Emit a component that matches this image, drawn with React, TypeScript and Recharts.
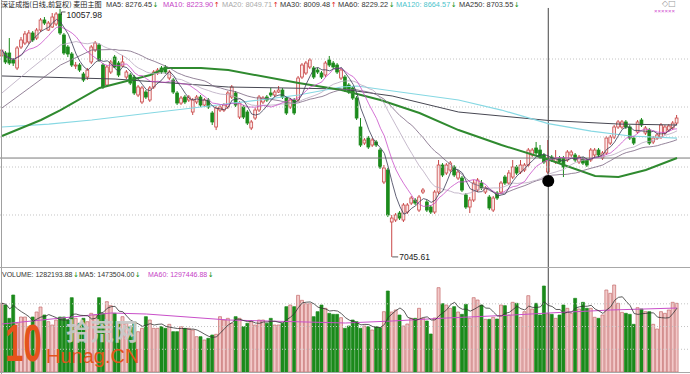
import React from 'react';
import { ComposedChart, Bar, Line, XAxis, YAxis, ReferenceLine, ReferenceDot, Cell } from 'recharts';

// daily candles (index 0 = left edge)
const opens = [
  9487, 9523, 9523, 9438, 9341, 9596, 9644, 9657, 9766, 9705, 9802, 9924, 9802, 9839, 9875, 9997, 9742, 9596, 9511, 9365,
  9377, 9268, 9231, 9414, 9559, 9620, 9377, 9134, 9292, 9474, 9401, 9365, 9231, 9256, 9231, 9013, 8928, 9049, 8952, 9110,
  9280, 9341, 9353, 9219, 9195, 9037, 8915, 8988, 8952, 8806, 8928, 8988, 8891, 8952, 8794, 8624, 8830, 8830, 8867, 8988,
  9037, 8745, 8867, 8806, 8612, 8733, 8830, 8928, 8988, 9037, 9013, 9049, 9073, 8976, 8867, 8952, 8952, 9231, 9280, 9353,
  9341, 9316, 9280, 9256, 9438, 9401, 9377, 9219, 9231, 9134, 9098, 8976, 8624, 8429, 8490, 8405, 8442, 8344, 7956, 8101,
  7470, 7494, 7579, 7494, 7591, 7700, 7737, 7615, 7834, 7713, 7652, 7591, 7834, 8162, 8065, 8101, 8138, 8004, 8004, 7798,
  7652, 7737, 7858, 7943, 7834, 7773, 7615, 7822, 7834, 8016, 7943, 8016, 8138, 8077, 8101, 8162, 8284, 8369, 8344, 8284,
  8077, 8259, 8199, 8247, 8247, 8223, 8284, 8284, 8199, 8235, 8223, 8223, 8284, 8344, 8247, 8308, 8429, 8502, 8624, 8624,
  8685, 8624, 8490, 8563, 8709, 8551, 8587, 8442, 8490, 8502, 8551, 8587, 8612, 8672,
];
const highs = [
  9596, 9547, 9705, 9462, 9608, 9717, 9790, 9802, 9790, 9827, 9948, 9960, 9912, 10009, 10021, 10057.98, 9766, 9620, 9535, 9414,
  9401, 9292, 9341, 9620, 9669, 9644, 9401, 9377, 9438, 9499, 9426, 9499, 9316, 9280, 9256, 9134, 9122, 9073, 9122, 9316,
  9341, 9365, 9377, 9316, 9219, 9061, 9001, 9013, 9013, 8976, 9013, 9013, 8976, 8976, 8818, 8879, 8891, 8915, 9061, 9134,
  9061, 8940, 8891, 8830, 8709, 8855, 9013, 9001, 9013, 9098, 9073, 9122, 9098, 9001, 8976, 8976, 9244, 9401, 9426, 9462,
  9365, 9341, 9304, 9426, 9487, 9426, 9401, 9341, 9256, 9158, 9122, 9001, 8733, 8490, 8515, 8490, 8466, 8369, 8162, 8126,
  7555, 7579, 7603, 7700, 7700, 7786, 7761, 7798, 7883, 7737, 7676, 7858, 8223, 8186, 8186, 8211, 8162, 8101, 8029, 7822,
  7773, 7980, 8004, 7980, 7907, 7798, 7786, 7846, 7968, 8041, 8101, 8223, 8162, 8223, 8186, 8369, 8369, 8442, 8405, 8308,
  8466, 8284, 8344, 8272, 8272, 8344, 8344, 8308, 8284, 8259, 8247, 8369, 8369, 8369, 8332, 8515, 8527, 8648, 8709, 8709,
  8709, 8648, 8515, 8709, 8733, 8636, 8612, 8515, 8551, 8672, 8648, 8660, 8697, 8770,
];
const lows = [
  9462, 9389, 9377, 9365, 9316, 9572, 9620, 9632, 9657, 9681, 9778, 9863, 9790, 9827, 9851, 9742, 9499, 9474, 9353, 9329,
  9292, 9171, 9195, 9389, 9535, 9414, 9086, 9110, 9268, 9341, 9231, 9353, 9207, 9134, 9013, 8988, 8903, 8964, 8928, 9086,
  9256, 9268, 9268, 9195, 9025, 8891, 8891, 8903, 8928, 8770, 8903, 8867, 8867, 8843, 8648, 8587, 8806, 8806, 8843, 8964,
  8867, 8721, 8721, 8648, 8587, 8709, 8806, 8903, 8928, 8988, 8988, 9037, 8964, 8770, 8843, 8770, 8928, 9207, 9256, 9329,
  9207, 9268, 9207, 9231, 9353, 9329, 9268, 9195, 9049, 9025, 8952, 8709, 8381, 8405, 8357, 8381, 8381, 8114, 7931, 7530,
  7045.61, 7470, 7494, 7470, 7567, 7676, 7676, 7591, 7810, 7591, 7567, 7567, 7810, 8016, 8041, 8077, 8016, 7980, 7834, 7628,
  7579, 7713, 7834, 7858, 7810, 7615, 7591, 7737, 7810, 7919, 7919, 7992, 8041, 8053, 8077, 8138, 8259, 8284, 8235, 8174,
  8053, 8199, 8174, 8174, 8016, 8199, 8259, 8199, 8174, 8162, 8138, 8199, 8259, 8259, 8223, 8284, 8405, 8478, 8600, 8600,
  8600, 8466, 8405, 8539, 8624, 8527, 8405, 8417, 8466, 8478, 8527, 8563, 8587, 8648,
];
const closes = [
  9559, 9414, 9401, 9401, 9584, 9681, 9754, 9766, 9681, 9802, 9924, 9887, 9887, 9960, 9997, 9766, 9523, 9511, 9377, 9377,
  9316, 9195, 9316, 9596, 9644, 9438, 9110, 9353, 9414, 9353, 9256, 9414, 9292, 9158, 9037, 9110, 9098, 8988, 9098, 9292,
  9316, 9292, 9292, 9292, 9049, 8915, 8976, 8928, 8988, 8952, 8988, 8891, 8952, 8867, 8685, 8855, 8867, 8891, 9037, 9110,
  8891, 8915, 8745, 8672, 8685, 8830, 8988, 8976, 8952, 9013, 9049, 9073, 8988, 8794, 8952, 8794, 9219, 9377, 9401, 9438,
  9231, 9292, 9231, 9401, 9377, 9353, 9292, 9316, 9073, 9049, 8976, 8733, 8405, 8466, 8381, 8466, 8405, 8138, 8126, 7555,
  7518, 7555, 7518, 7676, 7676, 7761, 7700, 7773, 7858, 7615, 7591, 7834, 8162, 8041, 8162, 8186, 8041, 8077, 7858, 7652,
  7737, 7943, 7980, 7883, 7883, 7640, 7761, 7761, 7943, 7943, 8065, 8138, 8065, 8162, 8162, 8344, 8344, 8308, 8259, 8199,
  8247, 8223, 8247, 8199, 8138, 8320, 8320, 8223, 8259, 8186, 8162, 8344, 8344, 8284, 8308, 8490, 8502, 8624, 8685, 8685,
  8624, 8490, 8429, 8685, 8648, 8612, 8429, 8490, 8527, 8648, 8624, 8636, 8672, 8733,
];
const volumes = [
  1511000, 1474000, 1181000, 1694000, 1071000, 1210000, 1210000, 880000, 1210000, 1320000, 1430000, 1254000, 1107000, 1034000, 1144000, 1210000, 1210000, 1144000, 1635000, 1181000,
  1071000, 1181000, 1107000, 1291000, 1254000, 1635000, 1291000, 1547000, 1459000, 1291000, 1107000, 1217000, 1071000, 997000, 1107000, 887000, 961000, 1217000, 1144000, 961000,
  961000, 997000, 961000, 1049000, 887000, 887000, 997000, 961000, 961000, 924000, 777000, 777000, 704000, 741000, 814000, 829000, 1217000, 1144000, 1181000, 1071000,
  1217000, 1181000, 997000, 1071000, 1107000, 1034000, 1144000, 1144000, 1071000, 1181000, 1034000, 1034000, 1071000, 1437000, 1474000, 1437000, 1687000, 1577000, 1503000, 1503000,
  1217000, 1327000, 1474000, 1401000, 1291000, 1269000, 1269000, 1195000, 961000, 1012000, 1144000, 1107000, 961000, 1012000, 997000, 924000, 997000, 975000, 1327000, 1782000,
  1320000, 1364000, 1254000, 1012000, 1056000, 1181000, 1181000, 1401000, 1181000, 1122000, 836000, 1188000, 1855000, 1503000, 1474000, 1401000, 1437000, 1320000, 1269000, 1489000,
  1181000, 1635000, 1584000, 1474000, 1159000, 1159000, 1203000, 1166000, 1474000, 1459000, 1254000, 1533000, 1511000, 1203000, 1327000, 1679000, 1386000, 1511000, 1254000, 1892000,
  1282194, 1269000, 1181000, 1254000, 1474000, 1401000, 1291000, 1621000, 1386000, 1533000, 1401000, 1401000, 1203000, 1181000, 1254000, 1804000, 1731000, 1914000, 1511000, 1313000,
  1291000, 1269000, 1049000, 1415000, 1386000, 1327000, 1327000, 1049000, 946000, 1327000, 1291000, 1364000, 1533000, 1511000,
];

// long averages as [index, value]
const ma20Start = [[0, 9037], [7, 9316], [15, 9620]];
const ma30Start = [[0, 8855], [7, 9098], [15, 9377], [23, 9559]];
const ma60Points = [
  [0, 8515], [5, 8612], [10, 8709], [15, 8830], [25, 9098], [33, 9195], [38, 9256], [42, 9341], [51, 9341], [58, 9316],
  [76, 9158], [87, 9073], [97, 8952], [107, 8794], [117, 8587], [128, 8405], [140, 8229.22], [152, 8029], [158, 8016],
  [165, 8101], [173, 8247],
];
const ma120Points = [
  [0, 8624], [12, 8660], [23, 8709], [38, 8794], [51, 8867], [66, 8952], [76, 9013], [87, 9110], [91, 9122], [102, 9049],
  [117, 8952], [128, 8830], [140, 8664.57], [151, 8575], [161, 8515], [173, 8490],
];
const ma250Points = [
  [0, 9244], [29, 9207], [58, 9110], [87, 9086], [100, 9001], [117, 8806], [140, 8703.55], [158, 8660], [173, 8648],
];
const volMa60Points = [
  [0, 1056000], [28, 1298000], [37, 1276000], [58, 1144000], [88, 1078000], [100, 1122000], [114, 1188000],
  [131, 1254000], [140, 1297447], [156, 1364000], [173, 1408000],
];

const priceGrid = [9450, 8867, 8503, 8138, 7555];
const volumeGrid = [500000, 1000000, 1500000];

const crossIndex = 140;
const crossPrice = 8247;
const markerPrice = 7968;
const highIndex = 15;
const highPrice = 10057.98;
const lowIndex = 100;
const lowPrice = 7045.61;

const title = '深证成指(日线,前复权) 麦田主图';
const maNames = ['MA5', 'MA10', 'MA20', 'MA30', 'MA60', 'MA120', 'MA250'];
const maValues = ['8276.45', '8223.90', '8049.71', '8009.48', '8229.22', '8664.57', '8703.55'];
const maTrend = ['down', 'up', 'up', 'up', 'down', 'down', 'down'];
const volNames = ['VOLUME', 'MA5', 'MA60'];
const volValues = ['1282193.88', '1473504.00', '1297446.88'];

// styles
const RED = '#c94848';
const RED_FILL = '#fbe8e8';
const GREEN = '#1b8a1b';
const maColors = ['#3b3b55', '#c94fc9', '#b7a8bf', '#7a6580', '#2f8a2f', '#86d8e3', '#474752'];
const maLabelColors = ['#333', '#c63fc6', '#aaa', '#333', '#333', '#4cc4cc', '#333'];
const maLabelX = [106, 163, 222, 280, 338, 396, 459];
const volLabelColors = ['#333', '#333', '#c63fc6'];
const volLabelX = [2, 79, 148];

const avg = (vals: number[], i: number, n: number) => {
  let s = 0;
  let k = 0;
  for (let j = Math.max(0, i - n + 1); j <= i; j++) {
    s += vals[j];
    k++;
  }
  return s / k;
};

const rows: any[] = closes.map((c, i) => ({
  idx: i,
  o: opens[i],
  h: highs[i],
  l: lows[i],
  c,
  vol: volumes[i],
  ma5: avg(closes, i, 5),
  ma10: avg(closes, i, 10),
  ma20: i >= 19 ? avg(closes, i, 20) : null,
  ma30: i >= 29 ? avg(closes, i, 30) : null,
  ma60: null,
  ma120: null,
  ma250: null,
  vma5: avg(volumes, i, 5),
  vma60: null,
}));

const put = (key: string, pts: number[][]) => pts.forEach(([i, v]) => (rows[i][key] = v));
put('ma20', ma20Start);
put('ma30', ma30Start);
put('ma60', ma60Points);
put('ma120', ma120Points);
put('ma250', ma250Points);
put('vma60', volMa60Points);

const Candle = (props: any) => {
  const { x, y, width, height, payload } = props;
  if (!payload) return null;
  const { o, h, l, c } = payload;
  const top0 = Math.min(y, y + height);
  const span = Math.abs(height);
  const toY = (p: number) => top0 + ((h - p) / (h - l || 1)) * span;
  const mid = x + width / 2;
  const up = c >= o;
  const col = up ? RED : GREEN;
  const bTop = toY(Math.max(o, c));
  const bBot = toY(Math.min(o, c));
  return (
    <g>
      <line x1={mid} x2={mid} y1={top0} y2={bTop} stroke={col} strokeWidth={1} />
      <line x1={mid} x2={mid} y1={bBot} y2={top0 + span} stroke={col} strokeWidth={1} />
      <rect
        x={mid - 1.4}
        y={bTop}
        width={2.8}
        height={Math.max(bBot - bTop, 0.8)}
        fill={up ? RED_FILL : col}
        stroke={col}
        strokeWidth={0.8}
      />
    </g>
  );
};

const Arrow = ({ dir }: { dir: string }) => (
  <span style={{ color: dir === 'up' ? '#e01010' : '#109010', fontFamily: 'DejaVu Sans', fontSize: 7, marginLeft: 0.5 }}>
    {dir === 'up' ? '↑' : '↓'}
  </span>
);

const labelFont: React.CSSProperties = {
  position: 'absolute',
  fontFamily: '"Liberation Sans", Arial, sans-serif',
  fontSize: 7.4,
  lineHeight: '9px',
  whiteSpace: 'nowrap',
};

const HighLabel = (p: any) => (
  <g>
    <line x1={p.cx + 1} x2={p.cx + 5} y1={p.cy + 3} y2={p.cy + 3} stroke="#333" strokeWidth={0.8} />
    <line x1={p.cx + 1} x2={p.cx + 1} y1={p.cy + 3} y2={p.cy + 6} stroke="#333" strokeWidth={0.8} />
    <text x={p.cx + 6} y={p.cy + 9} fontSize={8.5} fill="#222" fontFamily="Liberation Sans, Arial">
      {highPrice.toFixed(2)}
    </text>
  </g>
);

const LowLabel = (p: any) => (
  <g>
    <line x1={p.cx} x2={p.cx + 6} y1={p.cy} y2={p.cy} stroke="#333" strokeWidth={0.8} />
    <text x={p.cx + 7} y={p.cy + 3.5} fontSize={8.5} fill="#222" fontFamily="Liberation Sans, Arial">
      {lowPrice.toFixed(2)}
    </text>
  </g>
);

const xPad = { left: 0, right: 11 };

export default function App() {
  return (
    <div style={{ position: 'absolute', left: 0, top: 0, width: 690, height: 374, background: '#fff', overflow: 'hidden' }}>
      <div style={{ position: 'absolute', left: 0, top: 0 }}>
        <ComposedChart width={690} height={268} data={rows} margin={{ top: 0, right: 0, bottom: 0, left: 0 }}>
          <XAxis dataKey="idx" type="category" hide padding={xPad} />
          <YAxis hide domain={[6911, 10167]} allowDataOverflow />
          {priceGrid.map((p) => (
            <ReferenceLine key={p} y={p} stroke="#c4c4c4" strokeDasharray="1 2" />
          ))}
          <ReferenceLine y={crossPrice} stroke="#7a7a7a" />
          <ReferenceLine
            segment={[
              { x: crossIndex, y: 10070 },
              { x: crossIndex, y: 6911 },
            ]}
            stroke="#444"
          />
          <Line dataKey="ma250" stroke={maColors[6]} strokeWidth={1} dot={false} activeDot={false} connectNulls isAnimationActive={false} />
          <Line dataKey="ma120" stroke={maColors[5]} strokeWidth={1.2} dot={false} activeDot={false} connectNulls isAnimationActive={false} />
          <Line dataKey="ma60" stroke={maColors[4]} strokeWidth={2} dot={false} activeDot={false} connectNulls isAnimationActive={false} />
          <Bar dataKey={(d: any) => [d.l, d.h]} barSize={3} shape={Candle} isAnimationActive={false} />
          <Line dataKey="ma30" stroke={maColors[3]} strokeWidth={0.8} dot={false} activeDot={false} connectNulls isAnimationActive={false} />
          <Line dataKey="ma20" stroke={maColors[2]} strokeWidth={0.8} dot={false} activeDot={false} connectNulls isAnimationActive={false} />
          <Line dataKey="ma10" stroke={maColors[1]} strokeWidth={0.8} dot={false} activeDot={false} isAnimationActive={false} />
          <Line dataKey="ma5" stroke={maColors[0]} strokeWidth={0.8} dot={false} activeDot={false} isAnimationActive={false} />
          <ReferenceDot x={highIndex} y={highPrice} r={0} shape={HighLabel} />
          <ReferenceDot x={lowIndex} y={lowPrice} r={0} shape={LowLabel} />
          <ReferenceDot x={crossIndex} y={markerPrice} r={6} fill="#000" stroke="none" />
        </ComposedChart>
      </div>

      <div style={{ position: 'absolute', left: 0, top: 268 }}>
        <ComposedChart width={690} height={106} data={rows} margin={{ top: 0, right: 0, bottom: 2, left: 0 }}>
          <XAxis dataKey="idx" type="category" hide padding={xPad} />
          <YAxis hide domain={[0, 2288000]} allowDataOverflow />
          {volumeGrid.map((v) => (
            <ReferenceLine key={v} y={v} stroke="#c4c4c4" strokeDasharray="1 2" />
          ))}
          <ReferenceLine x={crossIndex} stroke="#444" />
          <Bar dataKey="vol" barSize={3} isAnimationActive={false}>
            {rows.map((r, i) => {
              const up = r.c >= r.o;
              return <Cell key={i} fill={up ? '#f2c9c9' : GREEN} stroke={up ? '#c46a6a' : GREEN} strokeWidth={0.7} />;
            })}
          </Bar>
          <Line dataKey="vma60" stroke="#c94fc9" strokeWidth={1} dot={false} activeDot={false} connectNulls isAnimationActive={false} />
          <Line dataKey="vma5" stroke="#333" strokeWidth={0.8} dot={false} activeDot={false} isAnimationActive={false} />
        </ComposedChart>
      </div>

      {/* frame lines */}
      <div style={{ position: 'absolute', left: 1, top: 0, width: 1, height: 374, background: '#a0a0a0' }} />
      <div style={{ position: 'absolute', left: 0, top: 267, width: 690, height: 1, background: '#a8a8a8' }} />
      <div style={{ position: 'absolute', left: 0, top: 372, width: 690, height: 1, background: '#a8a8a8' }} />

      {/* price header */}
      <div style={{ ...labelFont, left: 1, top: 0, fontFamily: '"Noto Sans CJK SC", sans-serif', fontSize: 7.1, color: '#222' }}>{title}</div>
      {maNames.map((n, i) => (
        <div key={n} style={{ ...labelFont, left: maLabelX[i], top: 0, color: maLabelColors[i] }}>
          {n}: {maValues[i]}
          <Arrow dir={maTrend[i]} />
        </div>
      ))}
      <div style={{ ...labelFont, left: 662, top: -1, color: '#999', fontFamily: 'DejaVu Sans', fontSize: 8 }}>◇□</div>
      <div style={{ ...labelFont, left: 654, top: 7, color: '#d050d0', fontSize: 6, letterSpacing: 0 }}>××××××</div>

      {/* volume header */}
      {volNames.map((n, i) => (
        <div key={n + i} style={{ ...labelFont, fontSize: 7, left: volLabelX[i], top: 270, color: volLabelColors[i] }}>
          {n}: {volValues[i]}
          <Arrow dir="down" />
        </div>
      ))}

      {/* watermark */}
      <div
        style={{
          position: 'absolute',
          left: 5,
          top: 320,
          fontFamily: '"Liberation Sans", Arial',
          fontWeight: 'bold',
          fontSize: 52,
          lineHeight: '46px',
          color: '#e5531c',
          transform: 'scaleX(0.64)',
          transformOrigin: 'left top',
        }}
      >
        10
      </div>
      <div
        style={{
          position: 'absolute',
          left: 66,
          top: 316,
          fontFamily: '"Noto Sans CJK SC", sans-serif',
          fontWeight: 'bold',
          fontSize: 24,
          lineHeight: '28px',
          color: '#c9c9c9',
          opacity: 0.95,
        }}
      >
        拾荒网
      </div>
      <div
        style={{
          position: 'absolute',
          left: 46,
          top: 345,
          fontFamily: '"Liberation Sans", Arial',
          fontSize: 20,
          lineHeight: '22px',
          color: '#e5531c',
        }}
      >
        Hunag.CN
      </div>
    </div>
  );
}
